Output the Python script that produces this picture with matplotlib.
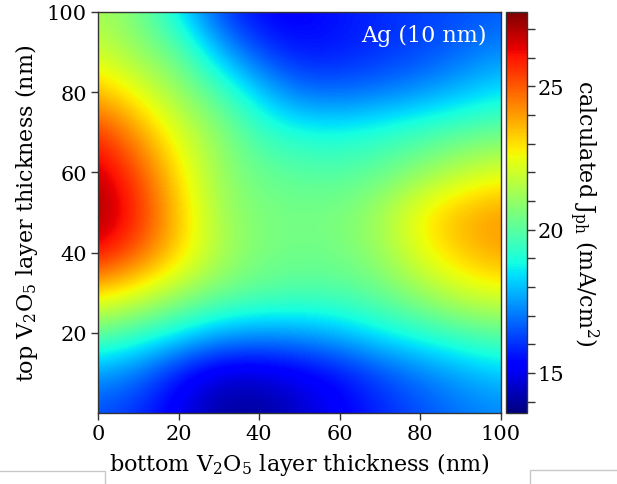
"""
Calculated photocurrent map vs. bottom / top V2O5 layer thickness (Ag 10 nm)
"""
import matplotlib
matplotlib.use('Agg')
import matplotlib.pyplot as plt
from matplotlib.lines import Line2D
from matplotlib.ticker import MultipleLocator
import numpy as np

# Thickness grid (nm)
bottom_nm = [0, 10, 20, 30, 40, 50, 60, 70, 80, 90, 100]
top_nm = [0, 10, 20, 30, 40, 50, 60, 70, 80, 90, 100]

# rows = top thickness (0 -> 100), columns = bottom thickness (0 -> 100)
jph_t000 = [16.4, 15.9, 15.0, 14.0, 13.9, 14.5, 15.2, 15.8, 16.4, 16.9, 17.2]
jph_t010 = [17.5, 16.9, 15.5, 14.6, 14.6, 15.0, 15.5, 16.3, 17.0, 17.6, 18.1]
jph_t020 = [20.2, 19.5, 18.7, 17.8, 17.5, 17.6, 18.0, 18.7, 19.2, 19.7, 20.1]
jph_t030 = [23.1, 22.3, 21.3, 20.5, 20.1, 19.9, 19.9, 20.3, 21.1, 22.0, 22.4]
jph_t040 = [26.3, 25.0, 23.2, 21.5, 20.6, 20.4, 20.5, 21.1, 22.4, 23.4, 24.0]
jph_t050 = [27.3, 25.8, 23.4, 21.3, 20.6, 20.5, 20.6, 21.3, 22.8, 23.7, 24.1]
jph_t060 = [26.8, 25.2, 22.9, 21.1, 20.3, 20.0, 19.9, 20.2, 20.9, 21.7, 22.3]
jph_t070 = [25.6, 24.0, 22.2, 20.9, 19.5, 19.0, 18.9, 19.2, 19.6, 20.0, 20.3]
jph_t080 = [23.6, 22.4, 21.1, 19.8, 18.2, 16.9, 16.8, 17.0, 17.4, 17.9, 18.5]
jph_t090 = [22.0, 21.0, 20.2, 17.9, 16.3, 15.6, 15.7, 16.0, 16.3, 16.8, 17.3]
jph_t100 = [21.3, 20.5, 18.5, 16.3, 15.3, 15.2, 15.6, 15.9, 16.2, 16.4, 16.6]

cbar_ticks = [15, 20, 25]
jph_min, jph_max = 13.6, 27.6

jph = np.array([jph_t000, jph_t010, jph_t020, jph_t030, jph_t040, jph_t050,
                jph_t060, jph_t070, jph_t080, jph_t090, jph_t100])

plt.rcParams['font.family'] = 'DejaVu Serif'
plt.rcParams['mathtext.fontset'] = 'custom'
plt.rcParams['mathtext.rm'] = 'DejaVu Serif'
plt.rcParams['mathtext.it'] = 'DejaVu Serif'

edge = '#333333'

fig = plt.figure(figsize=(6.17, 4.85), dpi=100)
ax = fig.add_axes([0.1588, 0.1464, 0.6527, 0.8268])
cax = fig.add_axes([0.8196, 0.1464, 0.034, 0.8268])

step = bottom_nm[1] - bottom_nm[0]
im = ax.imshow(jph, origin='lower', cmap='jet', vmin=jph_min, vmax=jph_max,
               interpolation='bicubic', aspect='auto',
               extent=[bottom_nm[0] - step / 2, bottom_nm[-1] + step / 2,
                       top_nm[0] - step / 2, top_nm[-1] + step / 2])
ax.set_xlim(0, 100)
ax.set_ylim(0, 100)
ax.set_xticks([0, 20, 40, 60, 80, 100])
ax.set_yticks([20, 40, 60, 80, 100])
ax.tick_params(direction='out', length=5, width=1, color=edge,
               labelsize=15, pad=3)
for s in ax.spines.values():
    s.set_color(edge)
    s.set_linewidth(1)

ax.set_xlabel('bottom V$_2$O$_5$ layer thickness (nm)', fontsize=16, labelpad=5)
ax.set_ylabel('top V$_2$O$_5$ layer thickness (nm)', fontsize=16, labelpad=5)

ax.text(0.965, 0.97, 'Ag (10 nm)', transform=ax.transAxes, color='white',
        fontsize=16, ha='right', va='top')

cb = fig.colorbar(im, cax=cax)
cb.set_ticks(cbar_ticks)
cb.ax.yaxis.set_minor_locator(MultipleLocator(1))
cb.ax.tick_params(which='both', length=6, width=1, color=edge, labelsize=15, pad=2)
cb.outline.set_edgecolor(edge)
cb.outline.set_linewidth(1)
cb.set_label('calculated J$_{\\mathrm{ph}}$ (mA/cm$^2$)', fontsize=16,
             rotation=270, labelpad=26)

# light grey frame fragments along the bottom edge of the original screenshot
grey = '#c8c8c8'
W, H = 617.0, 485.0
fig.add_artist(Line2D([0 / W, 105 / W, 105 / W], [1 - 472 / H, 1 - 472 / H, 0],
                      transform=fig.transFigure, color=grey, lw=1))
fig.add_artist(Line2D([617 / W, 530 / W, 530 / W], [1 - 471 / H, 1 - 471 / H, 0],
                      transform=fig.transFigure, color=grey, lw=1))

fig.savefig('out.png', dpi=100)
